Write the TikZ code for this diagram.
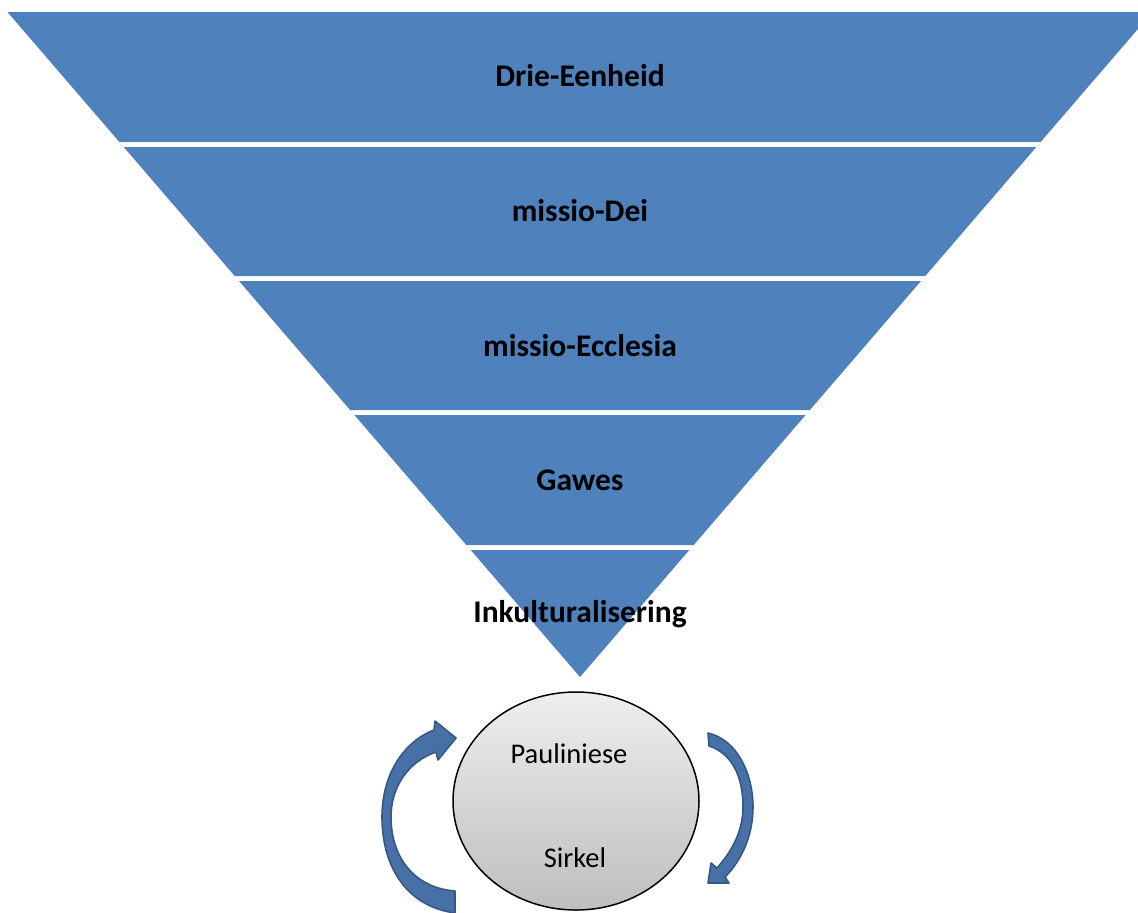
\documentclass[tikz,border=0pt]{standalone}
\usepackage{fontspec}
\setmainfont{Carlito}
\usetikzlibrary{shapes.geometric}
\definecolor{band}{RGB}{79,129,189}
\definecolor{arrfill}{RGB}{70,112,166}
\definecolor{arrline}{RGB}{54,89,132}
\definecolor{ctop}{RGB}{238,238,238}
\definecolor{cbot}{RGB}{190,190,190}
\tikzset{
  bandshape/.style={fill=band, draw=none},
  lbl/.style={font=\fontsize{31.5}{36}\selectfont\bfseries, text=black, inner sep=0pt},
  ctext/.style={font=\fontsize{28.5}{33}\selectfont, text=black, inner sep=0pt},
  curvearrow/.style={fill=arrfill, draw=arrline, line width=1.6pt, line join=round},
}
\begin{document}
\begin{tikzpicture}[x=1pt,y=-1pt]
\useasboundingbox (0,0) rectangle (1138,913);
\clip (0,0) rectangle (1138,913);
% bands
\fill[bandshape] (7.4,12) -- (1152.6,12) -- (1040.6,142) -- (119.4,142) -- cycle;
\fill[bandshape] (123.7,147) -- (1036.3,147) -- (925.3,276) -- (234.7,276) -- cycle;
\fill[bandshape] (239,281) -- (921,281) -- (809.9,410) -- (350.1,410) -- cycle;
\fill[bandshape] (354.4,415) -- (805.6,415) -- (693.7,545) -- (466.3,545) -- cycle;
\fill[bandshape] (470.7,550) -- (689.3,550) -- (580,677) -- cycle;
% labels
\node[lbl] (l1) at (580,76) {Drie-Eenheid};
\node[lbl] (l2) at (580,211) {missio-Dei};
\node[lbl] (l3) at (580,346) {missio-Ecclesia};
\node[lbl] (l4) at (580,480) {Gawes};
\node[lbl] (l5) at (580,614) {Inkulturalisering};
% circle
\node[ellipse, draw=black, line width=1.5pt, minimum width=246pt, minimum height=218pt,
      top color=ctop, bottom color=cbot, inner sep=0pt] (c) at (576,801) {};
\node[ctext] (p1) at (569,754) {Pauliniese};
\node[ctext] (p2) at (575,858) {Sirkel};
% left curved arrow
\draw[curvearrow] (455,913) .. controls (405,906) and (382,865) .. (382,817)
   .. controls (382,775) and (403,742) .. (434,730)
   -- (435,721) -- (456,738) -- (438,760) -- (436,752)
   .. controls (410,761) and (391,785) .. (391,817)
   .. controls (391,858) and (415,888) .. (455,891) -- cycle;
% right curved arrow
\draw[curvearrow] (708,733) .. controls (738,740) and (753,775) .. (753,807)
   .. controls (753,835) and (742,860) .. (725,877)
   -- (729,883) -- (708,883) -- (711,863) -- (717,868)
   .. controls (733,850) and (743,830) .. (743,807)
   .. controls (743,775) and (731,753) .. (709,746) -- cycle;
\end{tikzpicture}
\end{document}
